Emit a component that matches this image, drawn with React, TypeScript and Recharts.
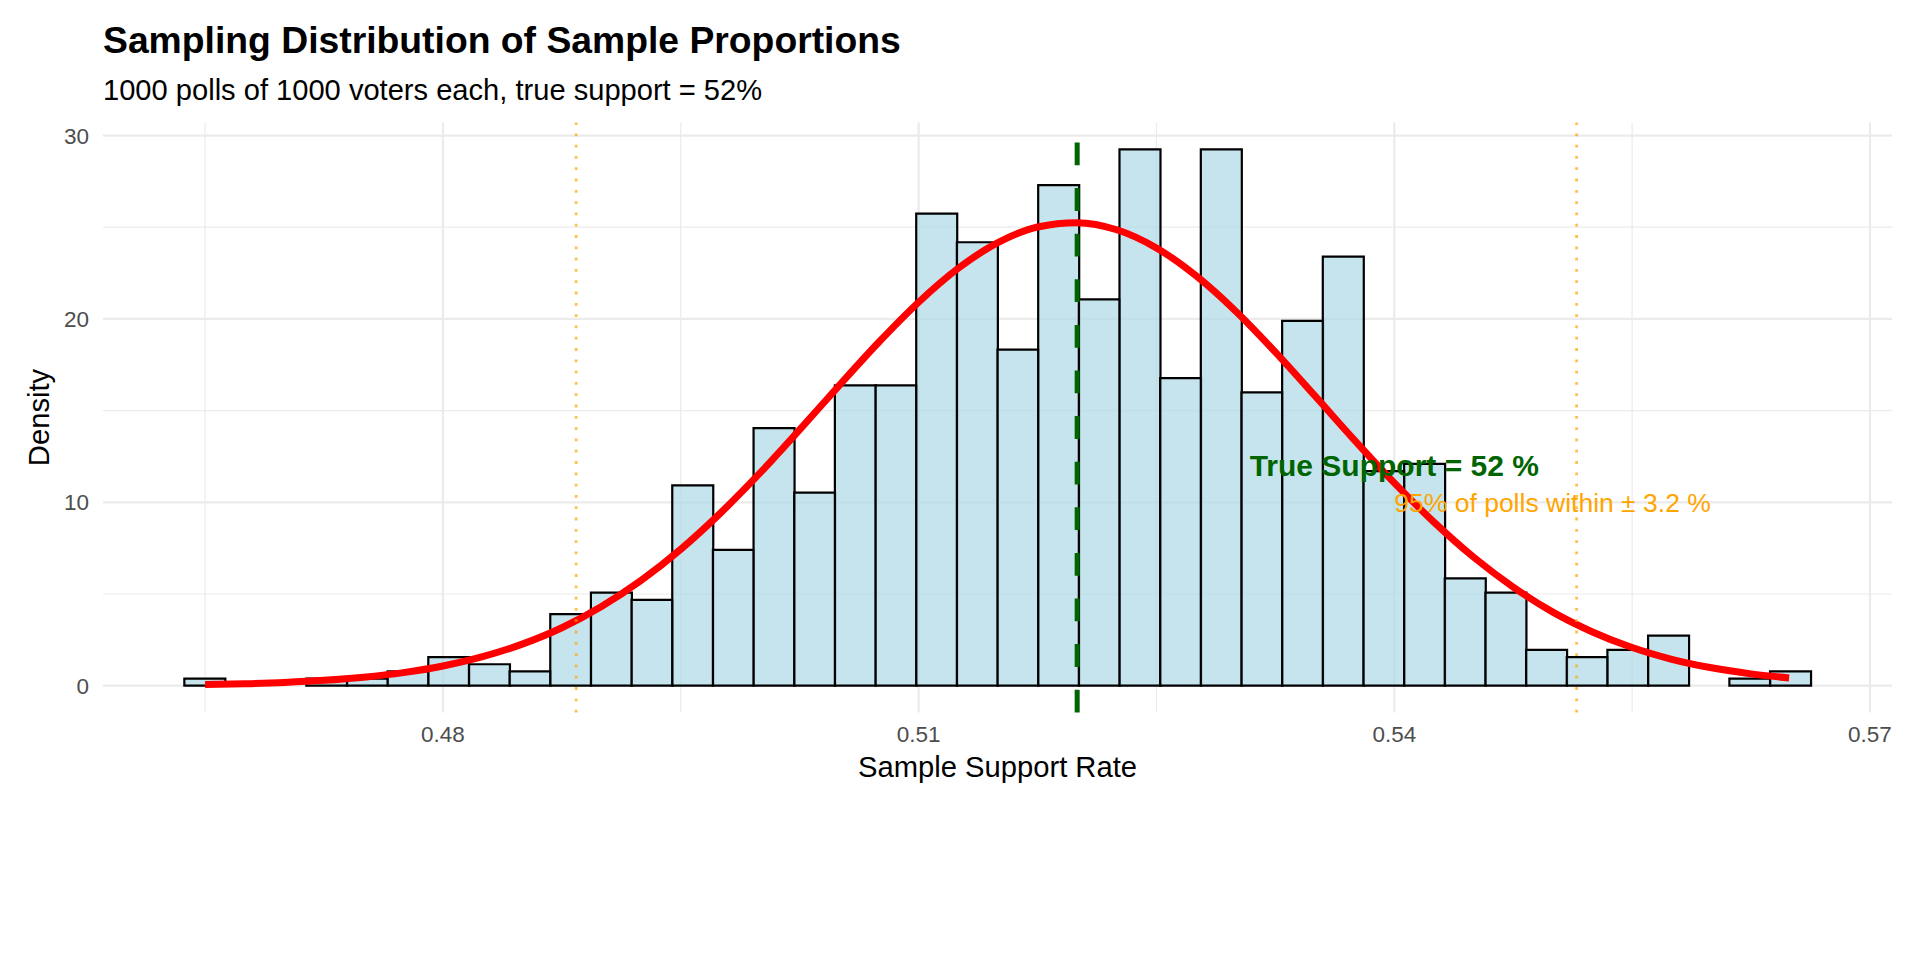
import React from "react";
import {
  ComposedChart,
  Bar,
  Line,
  XAxis,
  YAxis,
  CartesianGrid,
  ReferenceLine,
  ReferenceDot,
} from "recharts";

// histogram bins (centres) and density heights
const binCenters = [
  0.464972, 0.467536, 0.4701, 0.472665, 0.475229, 0.477793, 0.480358, 0.482922,
  0.485486, 0.488051, 0.490615, 0.493179, 0.495744, 0.498308, 0.500872, 0.503437,
  0.506001, 0.508565, 0.51113, 0.513694, 0.516258, 0.518823, 0.521387, 0.523951,
  0.526516, 0.52908, 0.531644, 0.534209, 0.536773, 0.539337, 0.541902, 0.544466,
  0.54703, 0.549595, 0.552159, 0.554723, 0.557288, 0.559852, 0.562416, 0.564981,
];
const binDensity = [
  0.39, 0, 0, 0.39, 0.39, 0.78, 1.56, 1.17, 0.78, 3.9, 5.07, 4.68, 10.92, 7.41,
  14.04, 10.53, 16.38, 16.38, 25.74, 24.18, 18.33, 27.3, 21.06, 29.25, 16.77,
  29.25, 15.99, 19.89, 23.4, 11.7, 12.09, 5.85, 5.07, 1.95, 1.56, 1.95, 2.73, 0,
  0.39, 0.78,
];

// normal curve
const curveX = [
  0.465, 0.4675, 0.47, 0.4725, 0.475, 0.4775, 0.48, 0.4825, 0.485, 0.4875, 0.49,
  0.4925, 0.495, 0.4975, 0.5, 0.5025, 0.505, 0.5075, 0.51, 0.5125, 0.515, 0.5175,
  0.52, 0.5225, 0.525, 0.5275, 0.53, 0.5325, 0.535, 0.5375, 0.54, 0.5425, 0.545,
  0.5475, 0.55, 0.5525, 0.555, 0.5575, 0.56, 0.5625, 0.5649,
];
const curveY = [
  0.063, 0.108, 0.179, 0.291, 0.462, 0.713, 1.074, 1.58, 2.265, 3.16, 4.32, 5.74,
  7.44, 9.41, 11.6, 13.96, 16.38, 18.74, 20.91, 22.76, 24.16, 25.01, 25.25, 24.86,
  23.87, 22.35, 20.42, 18.19, 15.8, 13.38, 11.06, 8.92, 7.01, 5.38, 4.01, 2.93,
  2.08, 1.44, 0.975, 0.644, 0.421,
];

const xTicks = [0.48, 0.51, 0.54, 0.57];
const xMinor = [0.465, 0.495, 0.525, 0.555];
const yTicks = [0, 10, 20, 30];
const yMinor = [5, 15, 25];
const xDomain = [0.45856, 0.57139];
const yDomain = [-1.4624, 30.7104];

const trueSupport = 0.52;
const ciBounds = [0.4884, 0.5515];
const labelTrue = { x: 0.54, y: 12, text: "True Support = 52 %" };
const labelCi = { x: 0.54, y: 10, text: "95% of polls within ± 3.2 %" };

const FONT = '"Liberation Sans", Arial, sans-serif';
const GRID = "#EBEBEB";

const bins = binCenters.map((x, i) => ({ x, density: binDensity[i] }));
const curve = curveX.map((x, i) => ({ x, y: curveY[i] }));

export default function App() {
  return (
    <div style={{ position: "absolute", left: 0, top: 0, width: 1920, height: 960, background: "#fff" }}>
      <ComposedChart
        width={1920}
        height={960}
        data={bins}
        barCategoryGap={0}
        barGap={0}
        margin={{ top: 122.5, right: 28, bottom: 207.5, left: 43 }}
        style={{ fontFamily: FONT }}
      >
        <CartesianGrid
          xAxisId="bin"
          stroke={GRID}
          strokeWidth={1.2}
          horizontalValues={yMinor}
          verticalValues={xMinor}
        />
        <CartesianGrid
          xAxisId="bin"
          stroke={GRID}
          strokeWidth={2.2}
          horizontalValues={yTicks}
          verticalValues={xTicks}
        />
        <XAxis
          xAxisId="bin"
          dataKey="x"
          type="number"
          domain={xDomain}
          allowDataOverflow
          ticks={xTicks}
          interval={0}
          tickFormatter={(v) => v.toFixed(2)}
          axisLine={false}
          tickLine={false}
          tickSize={0}
          tickMargin={14}
          height={40}
          tick={{ fontSize: 22.5, fill: "#4D4D4D", fontFamily: FONT }}
        />
        <XAxis xAxisId="curve" dataKey="x" type="number" domain={xDomain} allowDataOverflow hide />
        <YAxis
          type="number"
          domain={yDomain}
          allowDataOverflow
          ticks={yTicks}
          interval={0}
          axisLine={false}
          tickLine={false}
          tickSize={0}
          tickMargin={14}
          width={60}
          tick={{ fontSize: 22.5, fill: "#4D4D4D", fontFamily: FONT }}
        />
        <Bar
          xAxisId="bin"
          dataKey="density"
          fill="#ADD8E6"
          fillOpacity={0.7}
          stroke="#000"
          strokeWidth={2.2}
          isAnimationActive={false}
        />
        <Line
          xAxisId="curve"
          data={curve}
          dataKey="y"
          type="monotone"
          stroke="#FF0000"
          strokeWidth={7}
          dot={false}
          activeDot={false}
          isAnimationActive={false}
        />
        <ReferenceLine
          xAxisId="bin"
          x={trueSupport}
          stroke="#006400"
          strokeWidth={5}
          strokeDasharray="22.8 22.8"
        />
        {ciBounds.map((b) => (
          <ReferenceLine
            key={b}
            xAxisId="bin"
            x={b}
            stroke="#FFA500"
            strokeOpacity={0.7}
            strokeWidth={2.8}
            strokeDasharray="2.8 8.5"
          />
        ))}
        <ReferenceDot
          xAxisId="bin"
          x={labelTrue.x}
          y={labelTrue.y}
          r={0}
          shape={(p: any) => (
            <text
              x={p.cx}
              y={p.cy}
              dy="0.35em"
              textAnchor="middle"
              fontFamily={FONT}
              fontSize={30}
              fontWeight="bold"
              fill="#006400"
            >
              {labelTrue.text}
            </text>
          )}
        />
        <ReferenceDot
          xAxisId="bin"
          x={labelCi.x}
          y={labelCi.y}
          r={0}
          shape={(p: any) => (
            <text
              x={p.cx}
              y={p.cy}
              dy="0.35em"
              textAnchor="start"
              fontFamily={FONT}
              fontSize={26.5}
              fill="#FFA500"
            >
              {labelCi.text}
            </text>
          )}
        />
      </ComposedChart>
      <svg
        width={1920}
        height={960}
        style={{ position: "absolute", left: 0, top: 0, pointerEvents: "none", fontFamily: FONT }}
      >
        <text x={103} y={53} fontSize={37.3} fontWeight="bold" fill="#000">
          Sampling Distribution of Sample Proportions
        </text>
        <text x={103} y={100} fontSize={29.1} fill="#000">
          1000 polls of 1000 voters each, true support = 52%
        </text>
        <text x={997.5} y={777} fontSize={29.2} textAnchor="middle" fill="#000">
          Sample Support Rate
        </text>
        <text
          x={39}
          y={417.5}
          dy="0.35em"
          fontSize={29.2}
          textAnchor="middle"
          fill="#000"
          transform="rotate(-90 39 417.5)"
        >
          Density
        </text>
      </svg>
    </div>
  );
}
